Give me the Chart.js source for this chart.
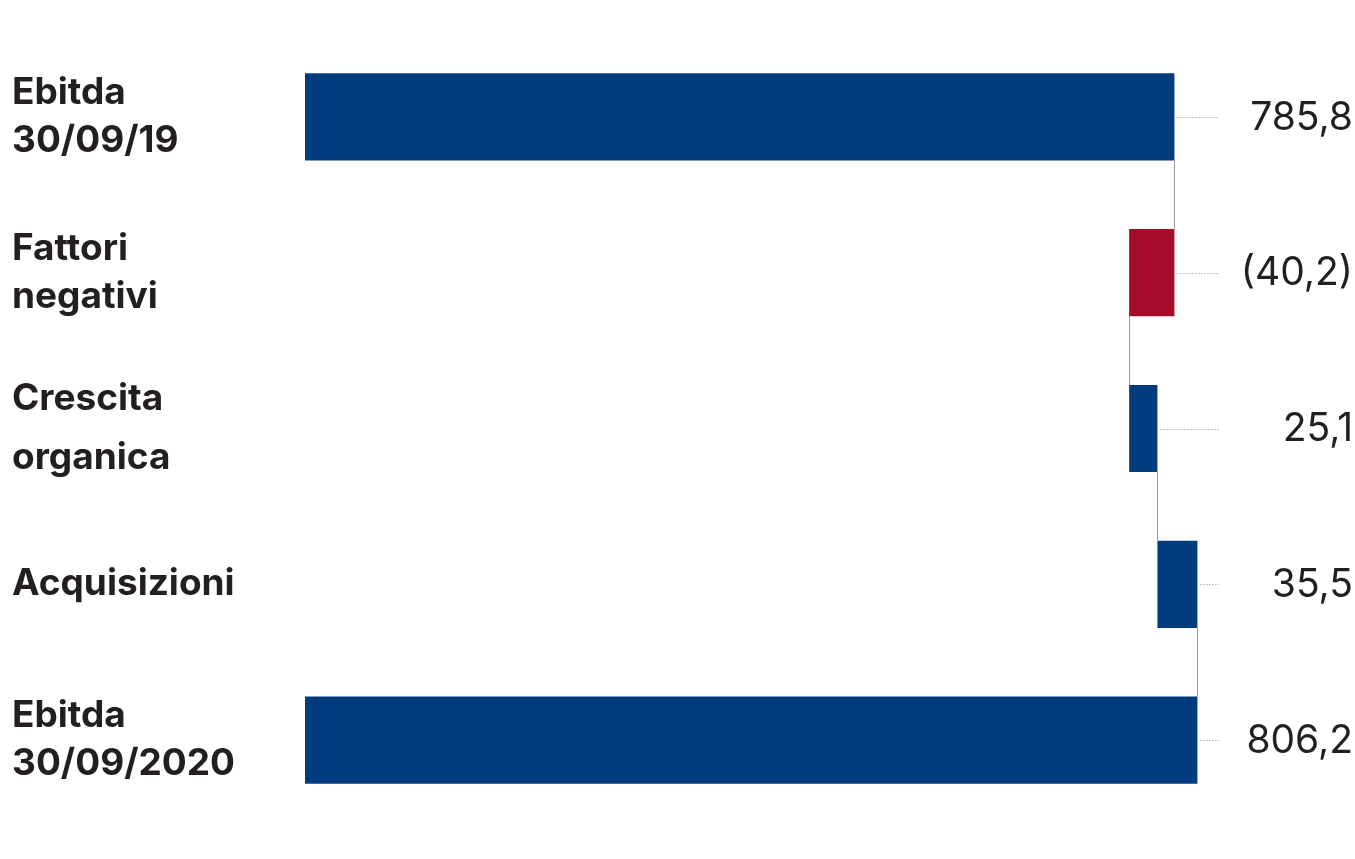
<!DOCTYPE html>
<html>
<head>
<meta charset="utf-8">
<script src="https://cdn.jsdelivr.net/npm/chart.js@4"></script>
<style>
  html, body { margin: 0; padding: 0; background: #fff; }
  #wrap { width: 1355px; height: 859px; }
</style>
</head>
<body>
<div id="wrap"><canvas id="myChart"></canvas></div>
<script>
// data
var categories = [['Ebitda', '30/09/19'], ['Fattori', 'negativi'], ['Crescita', 'organica'], ['Acquisizioni'], ['Ebitda', '30/09/2020']];
var changes = [785.8, -40.2, 25.1, 35.5, 806.2];
var isTotal = [true, false, false, false, true];
var valueLabels = ['785,8', '(40,2)', '25,1', '35,5', '806,2'];

var BLUE = '#023c7f';
var RED = '#a50b2b';

// build the floating bars of the waterfall
var floats = [];
var run = 0;
for (var i = 0; i < changes.length; i++) {
  if (isTotal[i]) {
    floats.push([0, changes[i]]);
    run = changes[i];
  } else {
    floats.push([run, run + changes[i]]);
    run = run + changes[i];
  }
}

var waterfallExtras = {
  id: 'waterfallExtras',
  afterDatasetsDraw: function (chart) {
    var c = chart.ctx;
    var x = chart.scales.x;
    var meta = chart.getDatasetMeta(0);
    c.save();
    // connectors between bars
    c.strokeStyle = '#9a9a9a';
    c.lineWidth = 1;
    for (var i = 0; i < floats.length - 1; i++) {
      var a = meta.data[i], b = meta.data[i + 1];
      var px = Math.round(x.getPixelForValue(floats[i][1])) + 0.5;
      c.beginPath();
      c.moveTo(px, a.y + a.height / 2);
      c.lineTo(px, b.y - b.height / 2);
      c.stroke();
    }
    // dotted leaders and value labels
    for (var j = 0; j < floats.length; j++) {
      var bar = meta.data[j];
      var right = x.getPixelForValue(Math.max(floats[j][0], floats[j][1]));
      var y = Math.round(bar.y) + 0.5;
      c.strokeStyle = '#8a8a8a';
      c.setLineDash([1, 2]);
      c.beginPath();
      c.moveTo(right + 3, y);
      c.lineTo(1219, y);
      c.stroke();
      c.setLineDash([]);
      c.fillStyle = '#231f20';
      c.font = '400 39px Inter';
      c.textAlign = 'right';
      c.textBaseline = 'middle';
      c.fillText(valueLabels[j], 1353, bar.y + 1);
    }
    c.restore();
  }
};

var ctx = document.getElementById('myChart');

var myChart = new Chart(ctx, {
  type: 'bar',
  data: {
    labels: categories,
    datasets: [{
      data: floats,
      backgroundColor: changes.map(function (v) { return v < 0 ? RED : BLUE; }),
      borderWidth: 0,
      barPercentage: 1,
      categoryPercentage: 0.56
    }]
  },
  options: {
    indexAxis: 'y',
    responsive: true,
    maintainAspectRatio: false,
    animation: false,
    layout: { padding: { left: 12, top: 39, bottom: 41, right: 115 } },
    plugins: {
      legend: { display: false },
      tooltip: { enabled: false }
    },
    scales: {
      x: {
        display: false,
        min: 14,
        max: 844
      },
      y: {
        grid: { display: false },
        border: { display: false },
        afterFit: function (scale) {
          scale.width = 293;
          scale.paddingTop = 0;
          scale.paddingBottom = 0;
        },
        ticks: {
          crossAlign: 'far',
          color: '#231f20',
          font: function (context) {
            return {
              family: 'Inter',
              weight: '700',
              size: 37,
              lineHeight: context.index === 2 ? 1.6 : 1.3
            };
          }
        }
      }
    }
  },
  plugins: [waterfallExtras]
});
</script>
</body>
</html>
